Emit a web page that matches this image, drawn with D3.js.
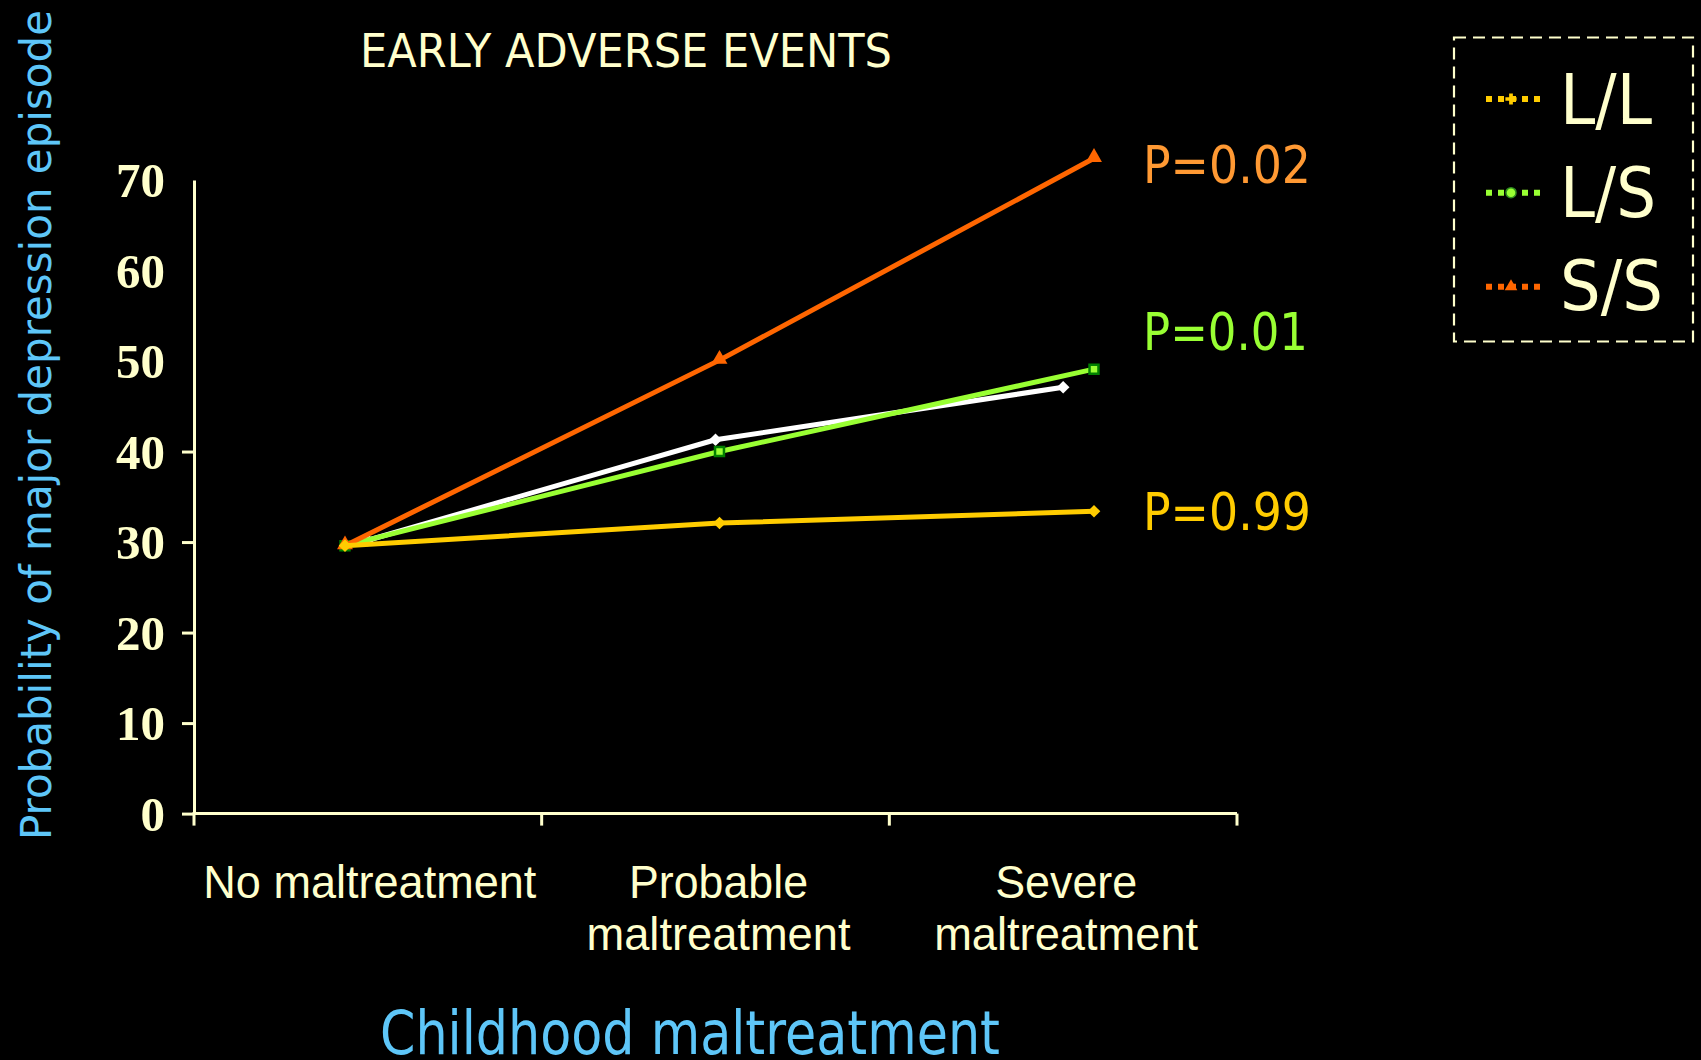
<!DOCTYPE html>
<html>
<head>
<meta charset="utf-8">
<script src="https://cdn.jsdelivr.net/npm/d3@7"></script>
<style>
  html, body { margin: 0; padding: 0; background: #000; }
  svg { display: block; }
</style>
</head>
<body>
<script>
// ---------- data ----------
const categories = ["No maltreatment", "Probable maltreatment", "Severe maltreatment"];
const categoryLines = [["No maltreatment"], ["Probable", "maltreatment"], ["Severe", "maltreatment"]];
const yTickValues = [0, 10, 20, 30, 40, 50, 60, 70];
const yTickMarkValues = [0, 10, 20, 30, 40];

const overallValues = [30.2, 41.3, 47.1];   // white line (no legend entry)
const llValues = [29.6, 32.1, 33.4];        // L/L
const lsValues = [29.6, 40.0, 49.1];        // L/S
const ssValues = [29.6, 50.1, 72.4];        // S/S

const legendNames = ["L/L", "L/S", "S/S"];
const pValueLabels = ["P=0.99", "P=0.01", "P=0.02"];

const titleText = "EARLY ADVERSE EVENTS";
const yAxisTitle = "Probability of major depression episode";
const xAxisTitle = "Childhood maltreatment";

// ---------- layout ----------
const W = 1701, H = 1060;
const cream = "#ffffcc";
const blue = "#5ec6f8";
const colors = { white: "#ffffff", ll: "#ffcc00", ls: "#99ff33", ss: "#ff6600" };
const pColors = ["#ffcc00", "#99ff33", "#ff9933"];

const svg = d3.select("body").append("svg").attr("width", W).attr("height", H);
svg.append("rect").attr("width", W).attr("height", H).attr("fill", "#000");

const x = d3.scaleBand().domain(categories).range([194, 1237]).padding(0);
const xOverlay = d3.scalePoint().domain(categories).range([345, 1094]);
const y = d3.scaleLinear().domain([0, 70]).range([813.6, 180]);

// ---------- axes ----------
const yAxis = svg.append("g").attr("transform", "translate(194,0)")
  .call(d3.axisLeft(y).tickValues(yTickValues).tickSize(12).tickSizeOuter(0).tickPadding(17));
yAxis.select(".domain").attr("stroke", cream).attr("stroke-width", 3);
yAxis.selectAll(".tick line").attr("stroke", cream).attr("stroke-width", 3)
  .attr("x2", d => yTickMarkValues.includes(d) ? -12 : 0);
yAxis.selectAll(".tick text")
  .attr("fill", cream)
  .attr("font-family", "'Liberation Serif', 'Times New Roman', serif")
  .attr("font-weight", "bold")
  .attr("font-size", 49)
  .attr("dy", "0.34em");

const xAxis = svg.append("g").attr("transform", `translate(0,${y(0)})`);
xAxis.append("line").attr("x1", x.range()[0] - 1.5).attr("x2", x.range()[1])
  .attr("stroke", cream).attr("stroke-width", 3);
const boundaries = categories.map(c => x(c)).concat([x.range()[1]]);
xAxis.selectAll("line.tk").data(boundaries).join("line").attr("class", "tk")
  .attr("x1", d => d).attr("x2", d => d).attr("y1", 0).attr("y2", 12)
  .attr("stroke", cream).attr("stroke-width", 3);

// category labels
const lineWidths = { "No maltreatment": 333, "Probable": 179, "Severe": 142, "maltreatment": 264 };
categories.forEach((c, i) => {
  categoryLines[i].forEach((t, j) => {
    svg.append("text")
      .attr("x", x(c) + x.bandwidth() / 2 + (i === 0 ? 2 : 3))
      .attr("y", 898 + j * 52)
      .attr("text-anchor", "middle")
      .attr("fill", cream)
      .attr("font-family", "'Liberation Sans', Arial, sans-serif")
      .attr("font-size", 46)
      .attr("textLength", lineWidths[t])
      .attr("lengthAdjust", "spacingAndGlyphs")
      .text(t);
  });
});

// ---------- titles ----------
svg.append("text").attr("x", 626).attr("y", 67).attr("text-anchor", "middle")
  .attr("fill", cream).attr("font-family", "'DejaVu Sans', Verdana, sans-serif")
  .attr("font-size", 47).attr("textLength", 532).attr("lengthAdjust", "spacingAndGlyphs")
  .text(titleText);

svg.append("text").attr("transform", "translate(51,425) rotate(-90)").attr("text-anchor", "middle")
  .attr("fill", blue).attr("font-family", "'DejaVu Sans', Verdana, sans-serif")
  .attr("font-size", 43).attr("textLength", 830).attr("lengthAdjust", "spacingAndGlyphs")
  .text(yAxisTitle);

svg.append("text").attr("x", 690).attr("y", 1054).attr("text-anchor", "middle")
  .attr("fill", blue).attr("font-family", "'DejaVu Sans', Verdana, sans-serif")
  .attr("font-size", 61).attr("textLength", 620).attr("lengthAdjust", "spacingAndGlyphs")
  .text(xAxisTitle);

// ---------- lines ----------
const diamond = d3.symbol().type(d3.symbolSquare).size(80);
const square = d3.symbol().type(d3.symbolSquare).size(80);
const triangle = d3.symbol().type(d3.symbolTriangle).size(110);

function drawSeries(values, xs, color, markerFn) {
  const pts = values.map((v, i) => [xs(categories[i]), y(v)]);
  svg.append("path").attr("d", d3.line()(pts)).attr("fill", "none")
    .attr("stroke", color).attr("stroke-width", 5).attr("stroke-linejoin", "round");
  pts.forEach(p => markerFn(p));
}
const xc = c => x(c) + x.bandwidth() / 2;

drawSeries(overallValues, xc, colors.white, p =>
  svg.append("path").attr("d", diamond()).attr("fill", colors.white)
    .attr("transform", `translate(${p[0]},${p[1]}) rotate(45)`));
drawSeries(lsValues, xOverlay, colors.ls, p =>
  svg.append("path").attr("d", square()).attr("fill", colors.ls)
    .attr("stroke", "#008000").attr("stroke-width", 2.5)
    .attr("transform", `translate(${p[0]},${p[1]})`));
drawSeries(ssValues, xOverlay, colors.ss, p =>
  svg.append("path").attr("d", triangle()).attr("fill", colors.ss)
    .attr("transform", `translate(${p[0]},${p[1] - 1})`));
drawSeries(llValues, xOverlay, colors.ll, p =>
  svg.append("path").attr("d", diamond()).attr("fill", colors.ll)
    .attr("transform", `translate(${p[0]},${p[1]}) rotate(45)`));

// ---------- p-values ----------
const pBaselines = [y(llValues[2]) + 18.5, y(lsValues[2]) - 19, y(ssValues[2]) + 25];
const pWidths = [168, 165, 168];
pValueLabels.forEach((t, i) => {
  svg.append("text").attr("x", 1143).attr("y", pBaselines[i])
    .attr("fill", pColors[i]).attr("font-family", "'DejaVu Sans', Verdana, sans-serif")
    .attr("font-size", 52).attr("textLength", pWidths[i]).attr("lengthAdjust", "spacingAndGlyphs")
    .text(t);
});

// ---------- legend ----------
const legend = svg.append("g");
legend.append("rect").attr("x", 1454).attr("y", 37.5).attr("width", 239).attr("height", 304)
  .attr("fill", "none").attr("stroke", cream).attr("stroke-width", 2.2).attr("stroke-dasharray", "12,7");
const legendColors = [colors.ll, colors.ls, colors.ss];
const legendBaselines = [124, 216.7, 310];
const legendWidths = [92, 96, 103];
const legendY = [99, 192.7, 286.7];
legendNames.forEach((n, i) => {
  legend.append("line").attr("x1", 1486).attr("x2", 1543).attr("y1", legendY[i]).attr("y2", legendY[i])
    .attr("stroke", legendColors[i]).attr("stroke-width", 6).attr("stroke-dasharray", "6,6");
  let m;
  if (i === 0) {
    m = legend.append("path").attr("d", d3.symbol().type(d3.symbolCross).size(70)())
      .attr("fill", legendColors[i]);
  } else if (i === 1) {
    m = legend.append("path").attr("d", d3.symbol().type(d3.symbolCircle).size(80)())
      .attr("fill", legendColors[i]).attr("stroke", "#2e8b1e").attr("stroke-width", 1.5);
  } else {
    m = legend.append("path").attr("d", d3.symbol().type(d3.symbolTriangle).size(70)())
      .attr("fill", legendColors[i]);
  }
  m.attr("transform", `translate(1511,${legendY[i]})`);
  legend.append("text").attr("x", 1560).attr("y", legendBaselines[i])
    .attr("fill", cream).attr("font-family", "'DejaVu Sans', Verdana, sans-serif")
    .attr("font-size", 70).attr("textLength", legendWidths[i]).attr("lengthAdjust", "spacingAndGlyphs")
    .text(n);
});
</script>
</body>
</html>
